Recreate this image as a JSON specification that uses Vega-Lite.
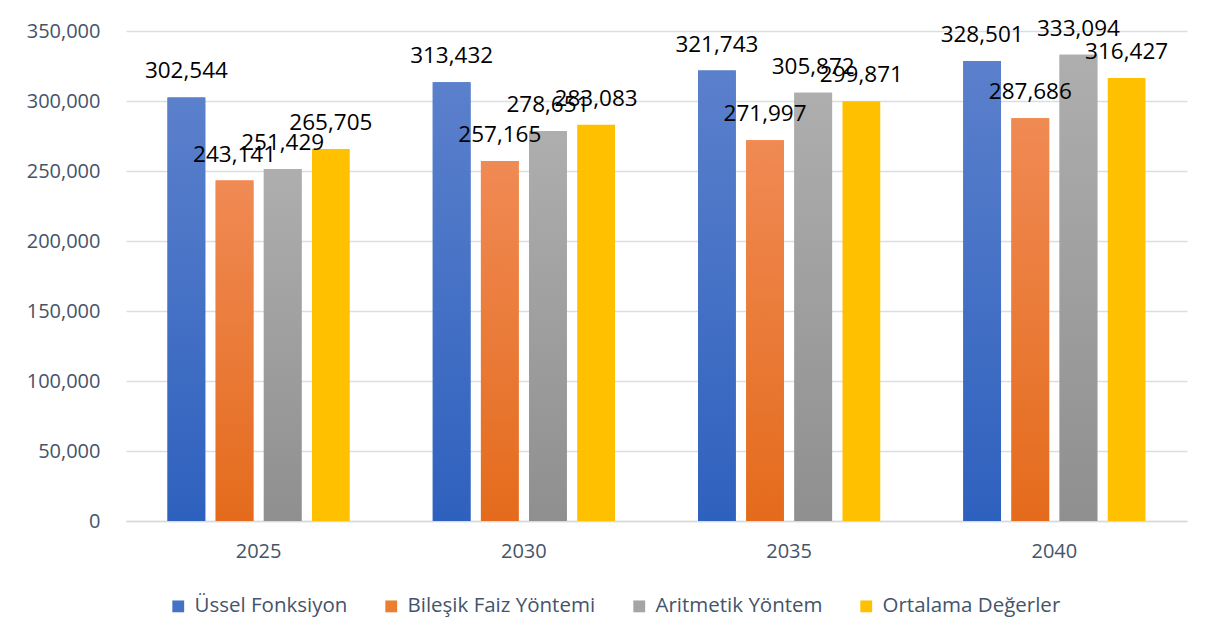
{
  "$schema": "https://vega.github.io/schema/vega-lite/v6.json",
  "width": 1061,
  "height": 490,
  "autosize": "none",
  "padding": {"left": 126, "top": 31, "right": 31, "bottom": 120},
  "background": "white",
  "config": {
    "font": "Open Sans",
    "view": {"stroke": null}
  },
  "data": {
    "values": [
      {"year": "2025", "series": "Üssel Fonksiyon", "value": 302544},
      {"year": "2025", "series": "Bileşik Faiz Yöntemi", "value": 243141},
      {"year": "2025", "series": "Aritmetik Yöntem", "value": 251429},
      {"year": "2025", "series": "Ortalama Değerler", "value": 265705},
      {"year": "2030", "series": "Üssel Fonksiyon", "value": 313432},
      {"year": "2030", "series": "Bileşik Faiz Yöntemi", "value": 257165},
      {"year": "2030", "series": "Aritmetik Yöntem", "value": 278651},
      {"year": "2030", "series": "Ortalama Değerler", "value": 283083},
      {"year": "2035", "series": "Üssel Fonksiyon", "value": 321743},
      {"year": "2035", "series": "Bileşik Faiz Yöntemi", "value": 271997},
      {"year": "2035", "series": "Aritmetik Yöntem", "value": 305872},
      {"year": "2035", "series": "Ortalama Değerler", "value": 299871},
      {"year": "2040", "series": "Üssel Fonksiyon", "value": 328501},
      {"year": "2040", "series": "Bileşik Faiz Yöntemi", "value": 287686},
      {"year": "2040", "series": "Aritmetik Yöntem", "value": 333094},
      {"year": "2040", "series": "Ortalama Değerler", "value": 316427}
    ]
  },
  "encoding": {
    "x": {
      "field": "year", "type": "nominal", "sort": null,
      "scale": {"paddingInner": 0.313, "paddingOuter": 0.1565},
      "axis": {
        "title": null, "labelAngle": 0, "ticks": false,
        "domainColor": "#D9D9D9", "domainWidth": 1.5,
        "labelFontSize": 20, "labelColor": "#44546A", "labelPadding": 20
      }
    },
    "xOffset": {
      "field": "series", "type": "nominal",
      "scale": {
        "domain": ["Üssel Fonksiyon", "Bileşik Faiz Yöntemi", "Aritmetik Yöntem", "Ortalama Değerler"],
        "paddingInner": 0.216, "paddingOuter": 0
      }
    },
    "y": {
      "field": "value", "type": "quantitative",
      "scale": {"domain": [0, 350000], "nice": false},
      "axis": {
        "title": null, "tickCount": 7,
        "labelExpr": "format(datum.value, ',')",
        "domain": false, "ticks": false,
        "gridColor": "#D9DEE6", "gridWidth": 1.5,
        "labelFontSize": 20, "labelColor": "#44546A", "labelPadding": 26
      }
    }
  },
  "layer": [
    {
      "mark": {"type": "bar"},
      "encoding": {
        "color": {
          "field": "series", "type": "nominal",
          "scale": {
            "domain": ["Üssel Fonksiyon", "Bileşik Faiz Yöntemi", "Aritmetik Yöntem", "Ortalama Değerler"],
            "range": ["#4472C4", "#ED7D31", "#A5A5A5", "#FFC000"]
          },
          "legend": {
            "title": null, "orient": "none", "direction": "horizontal",
            "legendX": 42, "legendY": 565,
            "symbolType": "square", "symbolSize": 140, "symbolStrokeWidth": 0,
            "labelFontSize": 20.5, "labelColor": "#44546A", "labelOffset": 6,
            "labelLimit": 400, "columnPadding": 33
          }
        }
      }
    },
    {
      "transform": [{"filter": "datum.series === 'Üssel Fonksiyon'"}],
      "mark": {
        "type": "bar",
        "color": {"gradient": "linear", "x1": 0, "y1": 0, "x2": 0, "y2": 1,
          "stops": [{"offset": 0, "color": "#5B80CC"}, {"offset": 1, "color": "#2E61BE"}]}
      }
    },
    {
      "transform": [{"filter": "datum.series === 'Bileşik Faiz Yöntemi'"}],
      "mark": {
        "type": "bar",
        "color": {"gradient": "linear", "x1": 0, "y1": 0, "x2": 0, "y2": 1,
          "stops": [{"offset": 0, "color": "#F08A54"}, {"offset": 1, "color": "#E46B1C"}]}
      }
    },
    {
      "transform": [{"filter": "datum.series === 'Aritmetik Yöntem'"}],
      "mark": {
        "type": "bar",
        "color": {"gradient": "linear", "x1": 0, "y1": 0, "x2": 0, "y2": 1,
          "stops": [{"offset": 0, "color": "#AEAEAE"}, {"offset": 1, "color": "#8F8F8F"}]}
      }
    },
    {
      "mark": {"type": "text", "baseline": "middle", "align": "center", "dy": -26, "fontSize": 22.5, "color": "#000000"},
      "encoding": {
        "text": {"field": "value", "type": "quantitative", "format": ","}
      }
    }
  ]
}
